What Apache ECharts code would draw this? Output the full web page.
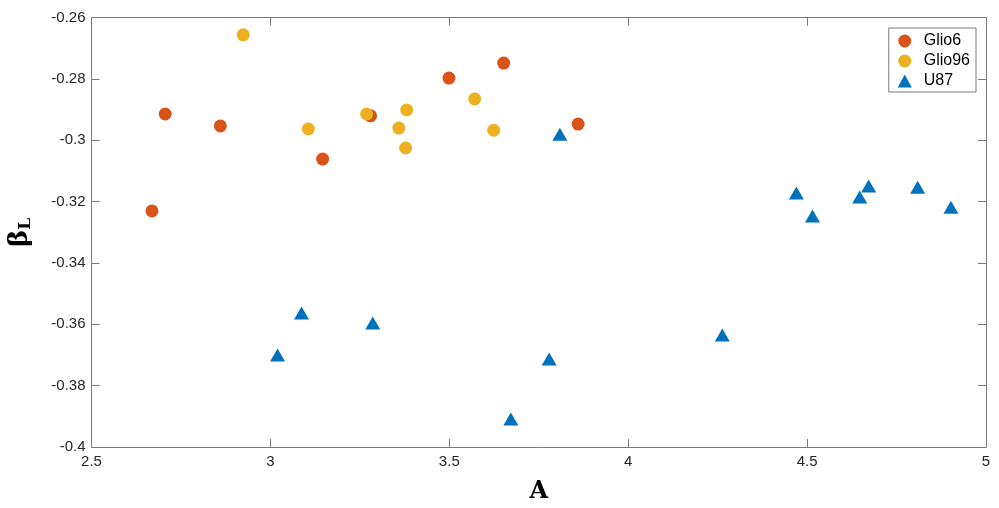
<!DOCTYPE html>
<html><head><meta charset="utf-8">
<script src="https://cdn.jsdelivr.net/npm/echarts@6/dist/echarts.min.js"></script>
<style>html,body{margin:0;padding:0;background:#fff}#c{width:999px;height:508px}</style>
</head><body><div id="c"></div>
<script>
const glio6X = [2.669, 2.706, 2.860, 3.146, 3.280, 3.499, 3.652, 3.860];
const glio6Y = [-0.3230, -0.2914, -0.2953, -0.3061, -0.2920, -0.2797, -0.2748, -0.2947];
const glio96X = [2.924, 3.106, 3.269, 3.359, 3.381, 3.378, 3.571, 3.624];
const glio96Y = [-0.2656, -0.2963, -0.2914, -0.2960, -0.2901, -0.3025, -0.2865, -0.2967];
const u87X = [3.020, 3.087, 3.286, 3.672, 3.779, 3.809, 4.263, 4.470, 4.515, 4.647, 4.672, 4.809, 4.902];
const u87Y = [-0.3700, -0.3563, -0.3596, -0.3909, -0.3713, -0.2980, -0.3635, -0.3172, -0.3247, -0.3185, -0.3149, -0.3153, -0.3218];
const seriesNames = ['Glio6', 'Glio96', 'U87'];
const xTicks = [2.5, 3, 3.5, 4, 4.5, 5];
const yTicks = [-0.4, -0.38, -0.36, -0.34, -0.32, -0.3, -0.28, -0.26];

const zip = (a, b) => a.map((v, i) => [v, b[i]]);
const axisCol = '#7a7a7a';
const txt = '#262626';
const fmtY = v => String(+v.toFixed(2));

const chart = echarts.init(document.getElementById('c'), null, {renderer: 'canvas'});
const xBase = {
  type: 'value', min: xTicks[0], max: xTicks[xTicks.length - 1], interval: 0.5,
  axisLine: {show: true, lineStyle: {color: axisCol, width: 1}},
  axisTick: {show: true, inside: true, length: 8, lineStyle: {color: axisCol}},
  splitLine: {show: false}
};
const yBase = {
  type: 'value', min: yTicks[0], max: yTicks[yTicks.length - 1], interval: 0.02,
  axisLine: {show: true, lineStyle: {color: axisCol, width: 1}},
  axisTick: {show: true, inside: true, length: 8, lineStyle: {color: axisCol}},
  splitLine: {show: false}
};
chart.setOption({
  animation: false,
  backgroundColor: '#fff',
  grid: {left: 91.5, right: 13, top: 17.7, bottom: 61, containLabel: false, outerBoundsMode: 'none'},
  legend: {
    orient: 'vertical', right: 23, top: 28,
    data: [
      {name: 'Glio6', icon: 'circle'},
      {name: 'Glio96', icon: 'circle'},
      {name: 'U87', icon: 'triangle'}
    ],
    itemWidth: 14, itemHeight: 13, itemGap: 4,
    padding: [5, 6, 3, 9],
    borderColor: '#7a7a7a', borderWidth: 1, borderRadius: 0,
    backgroundColor: '#fff',
    textStyle: {fontFamily: 'Liberation Sans, Arial', fontSize: 16, lineHeight: 16, color: '#000', padding: [0, 0, 0, 7]}
  },
  xAxis: [
    Object.assign({}, xBase, {
      position: 'bottom',
      name: 'A', nameLocation: 'middle', nameGap: 33,
      nameTextStyle: {fontFamily: 'DejaVu Serif', fontWeight: 'bold', fontSize: 24, color: '#000'},
      axisLabel: {fontFamily: 'Liberation Sans, Arial', fontSize: 15, color: txt, margin: 7,
        formatter: v => String(v)}
    }),
    Object.assign({}, xBase, {position: 'top', axisLabel: {show: false}})
  ],
  yAxis: [
    Object.assign({}, yBase, {
      position: 'left',
      name: '{a|β}{b|L}', nameLocation: 'middle', nameGap: 57, nameRotate: 90,
      nameTextStyle: {
        rich: {
          a: {fontFamily: 'DejaVu Serif', fontWeight: 'bold', fontSize: 26, color: '#000'},
          b: {fontFamily: 'DejaVu Serif', fontWeight: 'bold', fontSize: 17, color: '#000', verticalAlign: 'bottom', padding: [12, 0, 0, 0]}
        }
      },
      axisLabel: {fontFamily: 'Liberation Sans, Arial', fontSize: 15, color: txt, margin: 6, formatter: fmtY}
    }),
    Object.assign({}, yBase, {position: 'right', axisLabel: {show: false}})
  ],
  series: [
    {name: seriesNames[0], type: 'scatter', data: zip(glio6X, glio6Y), symbol: 'circle', symbolSize: 13,
      itemStyle: {color: '#D95319', opacity: 1}},
    {name: seriesNames[1], type: 'scatter', data: zip(glio96X, glio96Y), symbol: 'circle', symbolSize: 13,
      itemStyle: {color: '#EDB120', opacity: 1}},
    {name: seriesNames[2], type: 'scatter', data: zip(u87X, u87Y), symbol: 'triangle', symbolSize: [15, 13],
      itemStyle: {color: '#0072BD', opacity: 1}}
  ]
});
</script></body></html>
